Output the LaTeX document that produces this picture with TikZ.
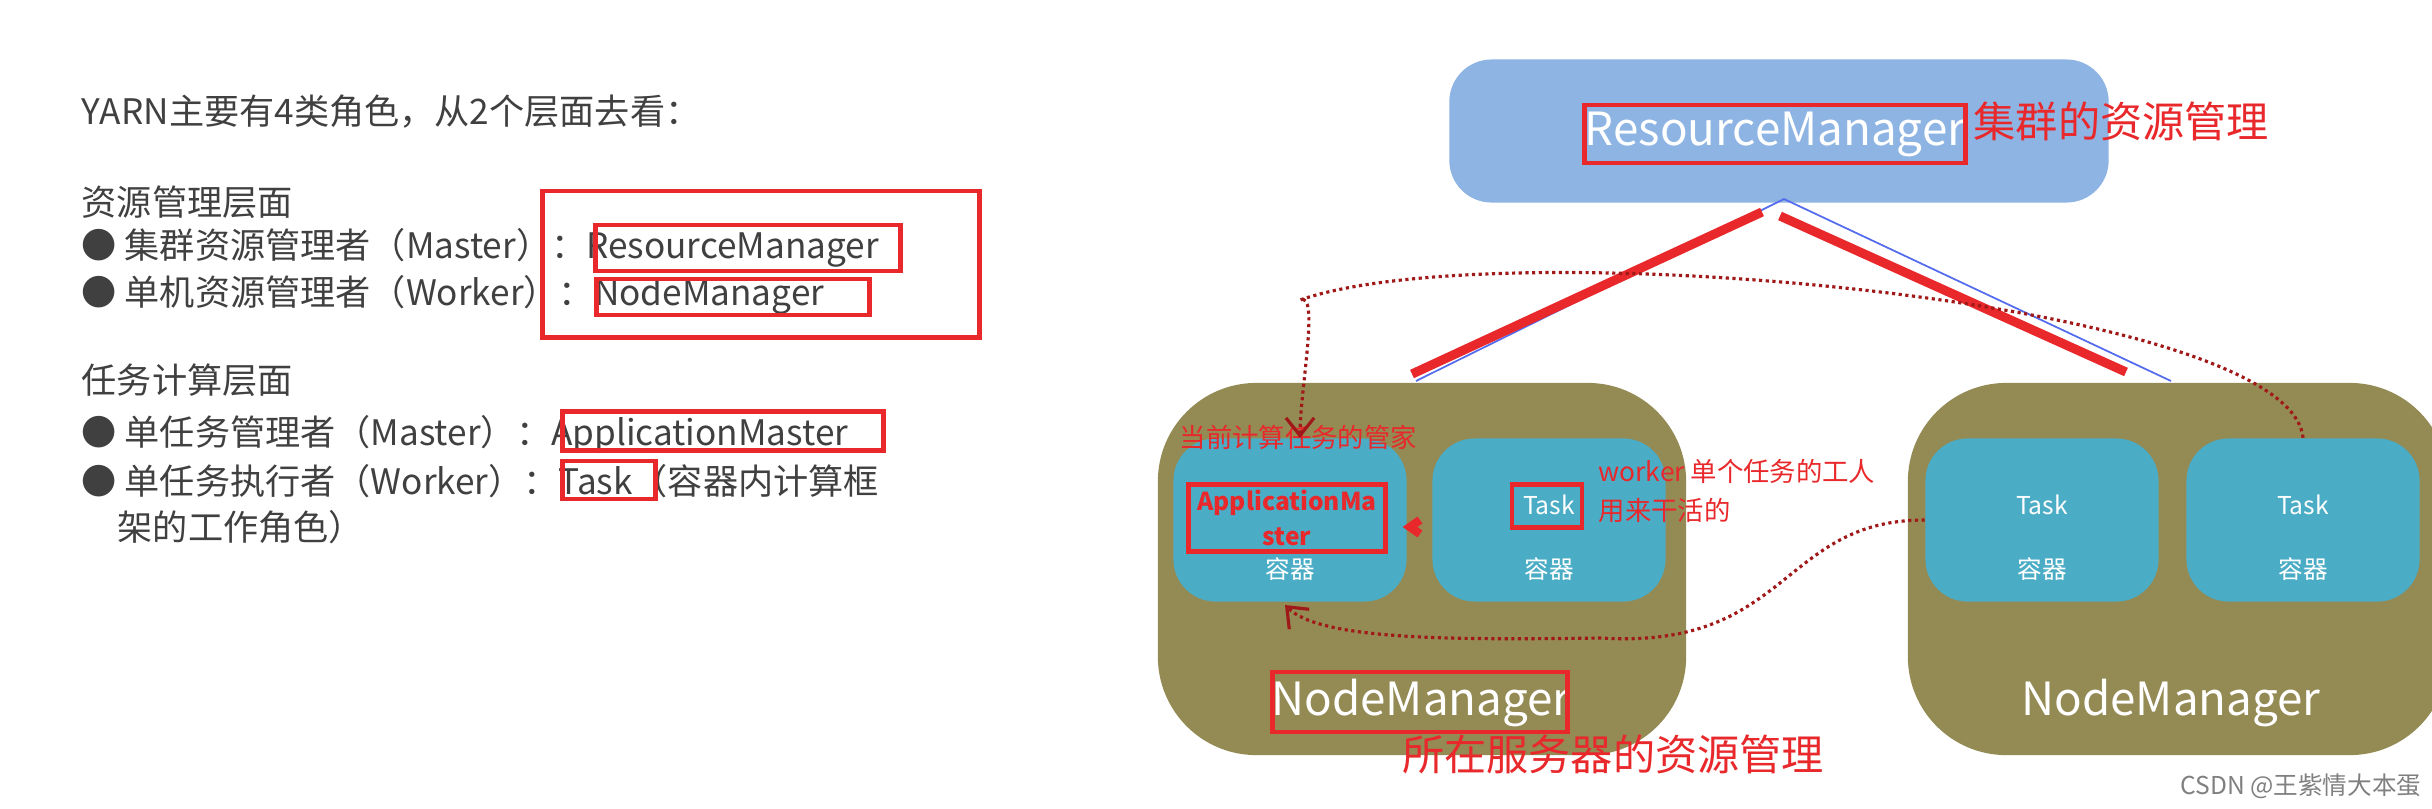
\documentclass[tikz,border=0pt]{standalone}
\usepackage{fontspec}
\setmainfont{Noto Sans CJK SC}
\usetikzlibrary{arrows.meta}
\definecolor{rmblue}{HTML}{8EB4E3}
\definecolor{nmolive}{HTML}{948A54}
\definecolor{ctblue}{HTML}{4BACC6}
\definecolor{hlred}{HTML}{E8282B}
\definecolor{txtgray}{HTML}{404040}
\definecolor{dotred}{HTML}{A01818}
\begin{document}
\begin{tikzpicture}[x=0.01cm,y=-0.01cm,
  rm/.style={rectangle, rounded corners=12pt, fill=rmblue, minimum width=6.59cm, minimum height=1.43cm},
  nm/.style={rectangle, rounded corners=28pt, fill=nmolive, minimum width=5.28cm, minimum height=3.72cm},
  ct/.style={rectangle, rounded corners=12pt, fill=ctblue, minimum width=2.33cm, minimum height=1.63cm},
  mbox/.style={draw=hlred, line width=1.4pt, rectangle, inner sep=0pt},
  note/.style={text=hlred, font=\fontsize{10}{12}\selectfont, anchor=west, inner sep=0pt},
  wtxt/.style={text=white, inner sep=0pt},
  ltxt/.style={text=txtgray, font=\fontsize{10}{12}\selectfont, anchor=west, inner sep=0pt},
  link/.style={draw=dotred, densely dotted, line width=0.9pt, -{Straight Barb[length=5pt,width=8pt]}}]
\useasboundingbox (0,0) rectangle (2432,808);

% left text
\node[ltxt] (t0) at (81,112) {YARN主要有4类角色，从2个层面去看：};
\node[ltxt] (t1) at (81,202) {资源管理层面};
\node[ltxt] (t2) at (81,248) {● 集群资源管理者（Master）：ResourceManager};
\node[ltxt] (t3) at (81,295) {● 单机资源管理者（Worker）：NodeManager};
\node[ltxt] (t4) at (81,380) {任务计算层面};
\node[ltxt] (t5) at (81,434) {● 单任务管理者（Master）：ApplicationMaster};
\node[ltxt] (t6) at (81,481) {● 单任务执行者（Worker）：Task（容器内计算框};
\node[ltxt] (t7) at (117,527) {架的工作角色）};
\node[mbox, minimum width=4.37cm, minimum height=1.46cm] (b0) at (761,264) {};
\node[mbox, minimum width=3.04cm, minimum height=0.46cm] (b1) at (748,248) {};
\node[mbox, minimum width=2.72cm, minimum height=0.36cm] (b2) at (733,297) {};
\node[mbox, minimum width=3.21cm, minimum height=0.39cm] (b3) at (723,431) {};
\node[mbox, minimum width=0.93cm, minimum height=0.38cm] (b4) at (609,480) {};

% ResourceManager
\node[rm] (rm) at (1779,131) {};
\node[wtxt, font=\fontsize{13}{15}\selectfont] (rmt) at (1775,134) {ResourceManager};
\node[mbox, minimum width=3.8cm, minimum height=0.58cm] (rmb) at (1775,134) {};
\node[note, font=\fontsize{12}{14}\selectfont] (rmn) at (1973,121) {集群的资源管理};

% NodeManagers
\node[nm] (nm1) at (1422,569) {};
\node[nm, minimum width=5.4cm] (nm2) at (2178,569) {};
\node[ct] (c1) at (1290,520) {};
\node[ct] (c2) at (1549,520) {};
\node[ct] (c3) at (2042,520) {};
\node[ct] (c4) at (2303,520) {};
\node[wtxt, font=\fontsize{13}{15}\selectfont] (nm1t) at (1421,703) {NodeManager};
\node[wtxt, font=\fontsize{13}{15}\selectfont] (nm2t) at (2171,703) {NodeManager};
\node[mbox, minimum width=2.95cm, minimum height=0.6cm] (nm1b) at (1420,702) {};
\node[note, font=\fontsize{12}{14}\selectfont, anchor=center] (nm1n) at (1613,754) {所在服务器的资源管理};

% containers text
\node[wtxt, font=\fontsize{7}{9}\selectfont] (k1) at (1290,569) {容器};
\node[wtxt, font=\fontsize{7}{9}\selectfont] (k2) at (1549,569) {容器};
\node[wtxt, font=\fontsize{7}{9}\selectfont] (k3) at (2042,569) {容器};
\node[wtxt, font=\fontsize{7}{9}\selectfont] (k4) at (2303,569) {容器};
\node[wtxt, font=\fontsize{7}{9}\selectfont] (s2) at (1549,505) {Task};
\node[wtxt, font=\fontsize{7}{9}\selectfont] (s3) at (2042,505) {Task};
\node[wtxt, font=\fontsize{7}{9}\selectfont] (s4) at (2303,505) {Task};
\node[mbox, minimum width=0.7cm, minimum height=0.43cm] (s2b) at (1547,506) {};
\node[text=hlred, font=\bfseries\fontsize{7}{10}\selectfont, align=center, inner sep=0pt] (am) at (1287,518) {ApplicationMa\\ster};
\node[mbox, minimum width=1.97cm, minimum height=0.67cm] (amb) at (1287,518) {};
\node[note, font=\fontsize{7.5}{9}\selectfont] (amn) at (1179,437) {当前计算任务的管家};
\node[note, font=\fontsize{7.5}{11}\selectfont, align=left] (wn) at (1598,491) {worker 单个任务的工人\\用来干活的};

% links to RM
\coordinate (rmbot) at (1784,199);
\coordinate (p1) at (1416,381);
\coordinate (p2) at (2171,381);
\draw[draw=rmblue!60!blue, line width=0.5pt] (p1) -- (rmbot) -- (p2);
\draw[hlred, line width=2.6pt] (1412,374) -- (1762,212);
\draw[hlred, line width=2.6pt] (1780,216) -- (2126,372);

% dotted communication
\draw[link] (c4.north) .. controls (2290,300) and (1500,230) .. (1300,300) .. controls (1320,290) and (1300,390) .. (1300,438);
\draw[link] (c3.west) .. controls (1780,520) and (1790,650) .. (1600,638) .. controls (1450,640) and (1320,640) .. (1285,605);
\draw[hlred, line width=2.4pt] (1420,520) -- (1410,527) -- (1420,534);
\node[text=gray, font=\fontsize{7}{9}\selectfont, anchor=east, inner sep=0pt] (wm) at (2422,786) {CSDN @王紫情大本蛋};
\end{tikzpicture}
\end{document}
